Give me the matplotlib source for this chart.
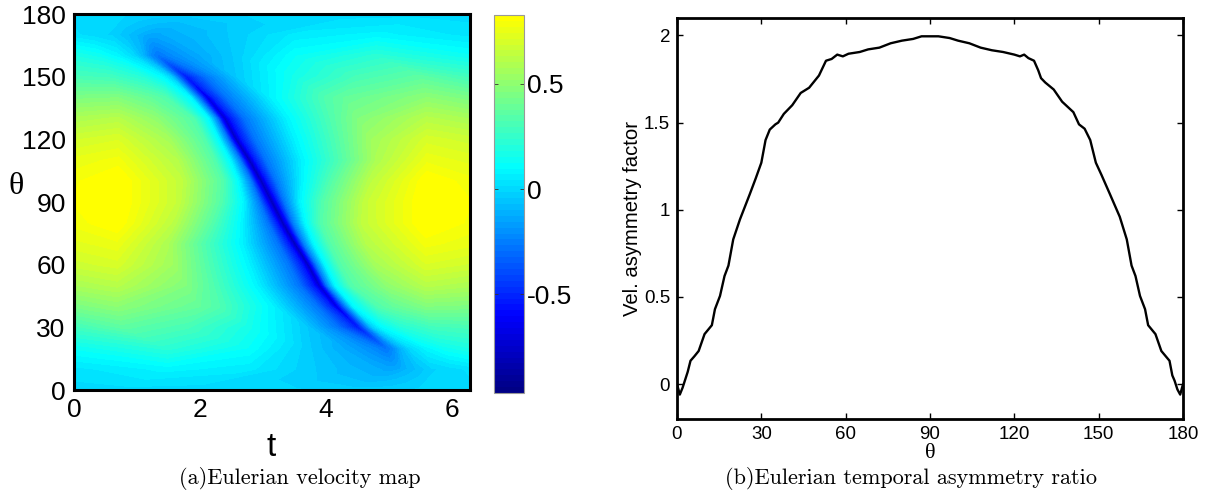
import numpy as np
import matplotlib
matplotlib.use('Agg')
import matplotlib.pyplot as plt
from matplotlib.colors import LinearSegmentedColormap, Normalize
from matplotlib.cm import ScalarMappable

W, H = 1220, 496

# left panel: velocity, one row per theta, knots follow the dark band
theta_rows = [0, 10, 20, 30, 40, 50, 60, 70, 80, 90, 100, 110, 120, 130, 140, 150, 160, 170, 180]
t_knots = [
    [0, .783, 1.783, 2.783, 3.483, 4.083, 4.383, 4.583, 4.783, 4.983, 5.233, 5.483, 5.683, 5.983, 6.283],
    [0, 1.483, 2.783, 3.683, 4.383, 4.783, 4.983, 5.083, 5.163, 5.233, 5.333, 5.483, 5.683, 5.983, 6.283],
    [0, 1.483, 2.783, 3.683, 4.283, 4.633, 4.833, 4.933, 5.003, 5.083, 5.183, 5.333, 5.583, 5.883, 6.283],
    [0, .783, 1.783, 2.783, 3.683, 4.183, 4.403, 4.503, 4.563, 4.633, 4.733, 4.863, 5.183, 5.683, 6.283],
    [0, .683, 1.983, 2.283, 3.133, 3.863, 4.083, 4.163, 4.223, 4.303, 4.433, 4.833, 5.083, 5.583, 6.283],
    [0, .683, 1.783, 2.193, 2.893, 3.573, 3.803, 3.893, 3.953, 4.013, 4.143, 4.393, 4.983, 5.583, 6.283],
    [0, .683, 1.583, 2.113, 2.763, 3.413, 3.623, 3.713, 3.773, 3.843, 3.983, 4.213, 4.783, 5.583, 6.283],
    [0, .683, 1.483, 2.053, 2.653, 3.233, 3.413, 3.503, 3.573, 3.643, 3.803, 4.053, 4.633, 5.583, 6.283],
    [0, .683, 1.583, 2.213, 2.663, 3.073, 3.223, 3.313, 3.393, 3.473, 3.663, 3.913, 4.583, 5.583, 6.283],
    [0, .65, 1.65, 2.34, 2.69, 2.94, 3.05, 3.14, 3.23, 3.34, 3.59, 3.94, 4.63, 5.63, 6.283],
    [0, .7, 1.7, 2.37, 2.62, 2.81, 2.89, 2.97, 3.06, 3.21, 3.62, 4.07, 4.7, 5.6, 6.283],
    [0, .7, 1.65, 2.23, 2.48, 2.64, 2.71, 2.78, 2.87, 3.05, 3.63, 4.23, 4.8, 5.6, 6.283],
    [0, .7, 1.5, 2.07, 2.30, 2.44, 2.51, 2.57, 2.66, 2.87, 3.52, 4.17, 4.7, 5.6, 6.283],
    [0, .7, 1.3, 1.89, 2.14, 2.27, 2.33, 2.39, 2.48, 2.71, 3.39, 4.09, 4.5, 5.6, 6.283],
    [0, .7, 1.2, 1.45, 1.85, 1.98, 2.06, 2.12, 2.2, 2.42, 3.15, 4.0, 4.3, 5.6, 6.283],
    [0, .6, 1.1, 1.42, 1.55, 1.65, 1.72, 1.78, 1.88, 2.1, 2.6, 3.5, 4.5, 5.5, 6.283],
    [0, .4, .7, .95, 1.1, 1.2, 1.28, 1.35, 1.45, 1.65, 2.0, 2.6, 3.5, 4.8, 6.283],
    [0, .3, .6, .8, .95, 1.05, 1.12, 1.2, 1.3, 1.5, 1.9, 2.6, 3.5, 4.8, 6.283],
    [0, .3, .6, .8, 1.05, 1.3, 1.5, 1.7, 1.9, 2.2, 2.8, 3.5, 4.5, 5.5, 6.283],
]
vel_rows = [
    [0, 0, 0, 0, -.01, -.02, -.03, -.03, -.03, -.03, -.02, -.01, 0, 0, 0],
    [.03, .08, .05, -.03, -.09, -.12, -.14, -.14, -.13, -.11, -.09, -.06, -.02, 0, .02],
    [.13, .22, .12, -.03, -.13, -.2, -.25, -.28, -.25, -.2, -.1, 0, .08, .14, .18],
    [.28, .36, .3, .16, -.04, -.28, -.45, -.55, -.45, -.28, -.05, .08, .2, .28, .3],
    [.44, .49, .38, .33, .08, -.28, -.52, -.7, -.52, -.28, .08, .33, .38, .46, .45],
    [.57, .61, .46, .33, .08, -.28, -.55, -.76, -.55, -.28, .08, .33, .5, .61, .58],
    [.67, .7, .54, .33, .08, -.28, -.55, -.8, -.55, -.28, .08, .33, .56, .71, .68],
    [.73, .76, .58, .33, .08, -.28, -.55, -.82, -.55, -.28, .08, .33, .6, .78, .75],
    [.78, .83, .62, .33, .08, -.28, -.55, -.82, -.55, -.28, .08, .33, .64, .84, .79],
    [.8, .85, .65, .33, .08, -.28, -.55, -.82, -.55, -.28, .08, .33, .65, .85, .8],
    [.79, .84, .64, .33, .08, -.28, -.55, -.82, -.55, -.28, .08, .33, .62, .83, .78],
    [.75, .78, .6, .33, .08, -.28, -.55, -.82, -.55, -.28, .08, .33, .58, .76, .73],
    [.68, .71, .56, .33, .08, -.28, -.55, -.8, -.55, -.28, .08, .33, .54, .7, .67],
    [.58, .61, .5, .33, .08, -.28, -.55, -.76, -.55, -.28, .08, .33, .46, .61, .57],
    [.45, .46, .38, .33, .08, -.28, -.52, -.7, -.52, -.28, .08, .33, .38, .49, .44],
    [.3, .28, .2, .08, -.05, -.28, -.45, -.55, -.45, -.28, -.04, .16, .3, .36, .28],
    [.18, .14, .08, 0, -.1, -.2, -.25, -.28, -.25, -.2, -.13, -.03, .12, .22, .13],
    [.02, 0, -.02, -.06, -.09, -.11, -.13, -.14, -.14, -.12, -.09, -.03, .05, .08, .03],
    [0, 0, 0, -.01, -.02, -.03, -.03, -.03, -.03, -.02, -.01, 0, 0, 0, 0],
]
vel_min, vel_max = -.967, .825
cbar_ticks = [-.5, 0, .5]
cbar_labels = ['-0.5', '0', '0.5']

# right panel
theta_curve = [0, 1, 2, 3, 3.8, 4.8, 6.2, 7.7, 9.8, 12.4, 13.5, 15.3, 16.9, 18.3, 20, 22.4, 25.9, 28, 30,
               31.5, 33, 35, 36, 38, 41, 44, 47, 48.5, 50.5, 53, 55, 57, 59, 61, 65, 68, 72, 76, 80, 84, 87, 90,
               93, 97, 100, 104, 108, 112, 116, 120, 122, 123.5, 125, 127, 128.5, 129.5, 131, 134, 137, 141,
               143, 145, 147, 149, 151, 154, 157.5, 160, 161.7, 163.1, 164.7, 166.5, 167.6, 170.2, 172.3,
               175.2, 176.2, 177, 178, 179, 180]
ratio_curve = [0, -.06, -.02, .03, .07, .134, .16, .19, .287, .338, .43, .506, .62, .68, .83, .945, 1.09, 1.18, 1.27,
               1.40, 1.46, 1.49, 1.5, 1.55, 1.6, 1.67, 1.7, 1.73, 1.77, 1.855, 1.865, 1.89, 1.88, 1.895, 1.905,
               1.92, 1.93, 1.955, 1.97, 1.98, 1.995, 1.995, 1.995, 1.985, 1.97, 1.955, 1.93, 1.915, 1.905, 1.89,
               1.88, 1.89, 1.87, 1.855, 1.8, 1.755, 1.73, 1.69, 1.62, 1.56, 1.49, 1.465, 1.40, 1.27, 1.2, 1.09,
               .96, .83, .68, .62, .506, .43, .338, .287, .19, .134, .05, .02, -.03, -.06, 0]
x_ticks_b = [0, 30, 60, 90, 120, 150, 180]
y_ticks_b = [0, .5, 1, 1.5, 2]
y_labels_b = ['0', '0.5', '1', '1.5', '2']

plt.rcParams['font.family'] = 'Liberation Sans'
plt.rcParams['axes.unicode_minus'] = False


def box(x0, y0, x1, y1):
	return [x0 / W, 1 - y1 / H, (x1 - x0) / W, (y1 - y0) / H]


def put(x, y, s, **kw):
	fig.text(x / W, 1 - y / H, s, ha='center', va='center', **kw)


fig = plt.figure(figsize=(W / 100, H / 100), dpi=100)

# jet cut off at yellow
cmap = LinearSegmentedColormap.from_list('jet_cut', [(0, (0, 0, .52)), (.2, (0, 0, 1)), (.6, (0, 1, 1)), (1, (1, 1, 0))], N=64)
norm = Normalize(vel_min, vel_max)

ax1 = fig.add_axes(box(74, 14, 470, 390))
T = np.array(t_knots)
TH = np.tile(np.array(theta_rows, dtype=float)[:, None], (1, T.shape[1]))
levels = np.linspace(vel_min, vel_max, 65)
ax1.contourf(T, TH, np.array(vel_rows), levels=levels, cmap=cmap, norm=norm, extend='both')
ax1.set_xlim(0, 6.283)
ax1.set_ylim(0, 180)
ax1.set_xticks([0, 2, 4, 6])
ax1.set_yticks([0, 30, 60, 90, 120, 150, 180])
ax1.tick_params(length=0, labelsize=19, pad=6)
for s in ax1.spines.values():
	s.set_linewidth(2.2)

cax = fig.add_axes(box(494, 15, 524, 393))
cb = fig.colorbar(ScalarMappable(norm=norm, cmap=cmap), cax=cax)
cb.set_ticks(cbar_ticks)
cb.set_ticklabels(cbar_labels)
cb.outline.set_edgecolor('#999999')
cb.outline.set_linewidth(.8)
cax.tick_params(left=True, right=True, direction='in', length=3, width=.6, color='#333333', labelsize=19, pad=2)

put(271, 448, 't', fontsize=24)
put(16, 186, 'θ', fontsize=23, family='Liberation Serif')
put(300, 478, '(a)Eulerian velocity map', fontsize=16, family='cmr10')

ax2 = fig.add_axes(box(677, 18, 1183, 419))
ax2.plot(theta_curve, ratio_curve, color='k', lw=1.7)
ax2.set_xlim(0, 180)
ax2.set_ylim(-.2, 2.1)
ax2.set_xticks(x_ticks_b)
ax2.set_yticks(y_ticks_b)
ax2.set_yticklabels(y_labels_b)
ax2.tick_params(direction='in', top=True, right=True, length=4, width=1, labelsize=13.5, pad=5)
for s in ax2.spines.values():
	s.set_linewidth(2.0)

put(930, 453, 'θ', fontsize=16, family='Liberation Serif')
put(632, 218, 'Vel. asymmetry factor', fontsize=14.6, rotation=90)
put(911, 478, '(b)Eulerian temporal asymmetry ratio', fontsize=16, family='cmr10')

fig.savefig('out.png', dpi=100)
